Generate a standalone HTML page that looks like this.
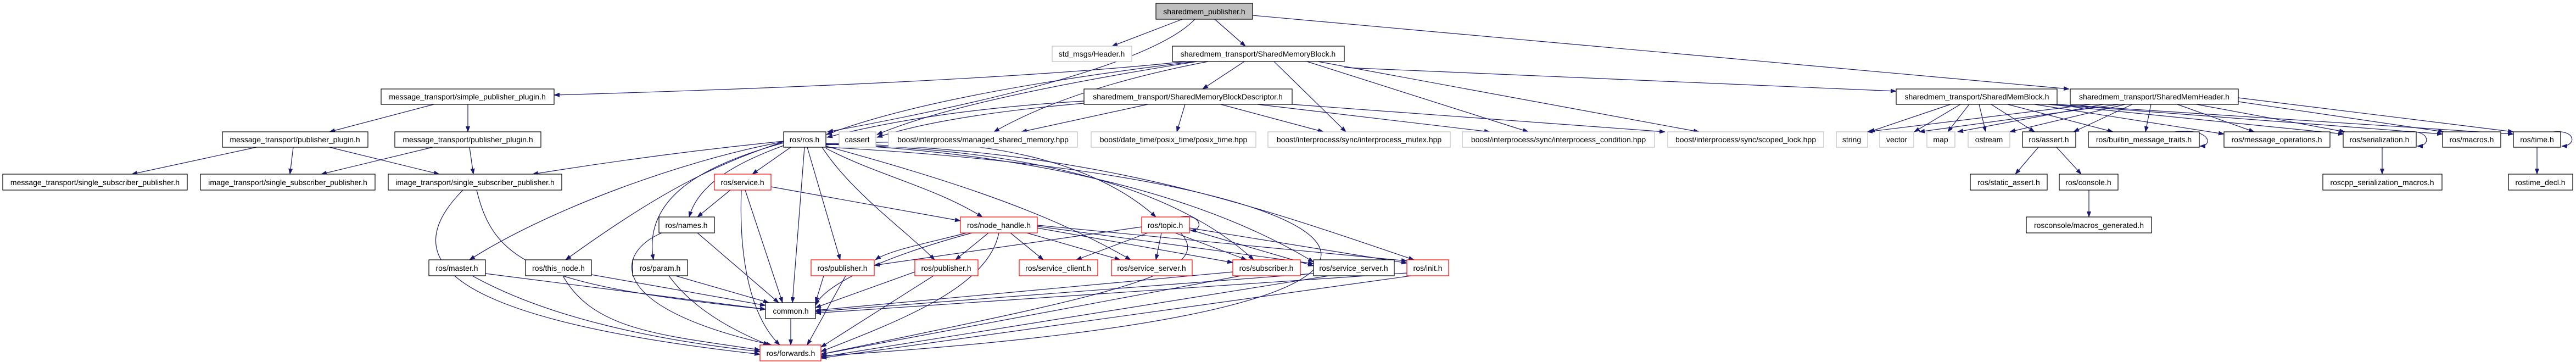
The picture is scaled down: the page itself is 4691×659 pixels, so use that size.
<!DOCTYPE html>
<html><head><meta charset="utf-8"><style>
html,body{margin:0;padding:0;background:#fff;}
svg{display:block;}
text{font-family:"Liberation Sans",sans-serif;font-size:14px;fill:#000;text-anchor:middle;}
.e{fill:none;stroke:#191970;stroke-width:1.2;marker-end:url(#a);}
.n{fill:#fff;stroke:#000;stroke-width:1.2;}
.g{fill:#fff;stroke:#bfbfbf;stroke-width:1.2;}
.r{fill:#fff;stroke:#ff0000;stroke-width:1.2;}
</style></head><body>
<svg width="4691" height="659" viewBox="0 0 4691 659" xmlns="http://www.w3.org/2000/svg">
<defs><marker id="a" markerWidth="11" markerHeight="8" refX="10" refY="4" orient="auto" markerUnits="userSpaceOnUse"><path d="M0,0 L11,4 L0,8 z" fill="#191970"/></marker></defs>
<g>
<path class="e" d="M2153,35 L2025,84"/>
<path class="e" d="M2212,35 L2268,84"/>
<path class="e" d="M2176,35 Q2080,135 1507,240"/>
<path class="e" d="M2281,28 L3768,162"/>
<path class="e" d="M2160,112 Q1800,150 1009,173"/>
<path class="e" d="M2175,112 Q1700,170 1505,245"/>
<path class="e" d="M2180,112 Q1750,180 1597,245"/>
<path class="e" d="M2200,112 Q1950,160 1810,240"/>
<path class="e" d="M2266,112 L2190,162"/>
<path class="e" d="M2320,112 L2451,240"/>
<path class="e" d="M2380,112 L2783,240"/>
<path class="e" d="M2400,112 L3094,240"/>
<path class="e" d="M2448,123 L3453,166"/>
<path class="e" d="M1974,184 Q1700,200 1506,250"/>
<path class="e" d="M1974,188 Q1720,210 1597,250"/>
<path class="e" d="M2090,190 L1860,240"/>
<path class="e" d="M2158,190 L2143,240"/>
<path class="e" d="M2223,190 L2410,240"/>
<path class="e" d="M2290,190 L2713,240"/>
<path class="e" d="M2353,190 L3032,240"/>
<path class="e" d="M790,190 L600,240"/>
<path class="e" d="M852,190 L852,240"/>
<path class="e" d="M467,268 L240,317"/>
<path class="e" d="M534,268 L528,317"/>
<path class="e" d="M600,268 L800,317"/>
<path class="e" d="M788,268 L585,317"/>
<path class="e" d="M855,268 L862,317"/>
<path class="e" d="M843,346 C720,470 800,580 1384,645"/>
<path class="e" d="M868,346 C900,480 980,520 1394,563"/>
<path class="e" d="M1427,257 Q1200,280 970,317"/>
<path class="e" d="M1427,258 C1250,290 1000,380 855,473"/>
<path class="e" d="M1427,258 C1300,300 1200,350 1030,473"/>
<path class="e" d="M1427,260 C1280,300 1170,360 1190,473"/>
<path class="e" d="M1427,265 C1330,300 1270,340 1255,395"/>
<path class="e" d="M1440,268 L1370,317"/>
<path class="e" d="M1465,268 L1443,551"/>
<path class="e" d="M1470,268 L1530,473"/>
<path class="e" d="M1504,270 C1600,320 1700,340 1789,395"/>
<path class="e" d="M1497,268 C1550,350 1650,420 1702,473"/>
<path class="e" d="M1504,266 C1700,320 1900,380 2059,473"/>
<path class="e" d="M1504,264 C1800,240 2000,300 2105,395"/>
<path class="e" d="M1504,263 C1900,270 2150,350 2283,473"/>
<path class="e" d="M1504,262 C1900,280 2200,360 2392,477"/>
<path class="e" d="M1504,261 C2000,270 2300,380 2575,473"/>
<path class="e" d="M1504,268 C2500,320 2900,560 1495,648"/>
<path class="e" d="M1330,346 L1270,395"/>
<path class="e" d="M1357,346 L1425,551"/>
<path class="e" d="M1350,346 C1345,480 1370,580 1420,628"/>
<path class="e" d="M1404,340 L1749,402"/>
<path class="e" d="M1270,424 L1418,551"/>
<path class="e" d="M1205,424 C1120,460 1100,560 1405,628"/>
<path class="e" d="M884,498 L1394,563"/>
<path class="e" d="M860,502 C1000,580 1200,620 1384,640"/>
<path class="e" d="M1077,500 L1394,556"/>
<path class="e" d="M1025,502 C1080,600 1200,610 1384,637"/>
<path class="e" d="M1230,502 L1400,551"/>
<path class="e" d="M1218,502 C1260,560 1330,600 1400,628"/>
<path class="e" d="M1760,424 C1700,440 1620,455 1594,473"/>
<path class="e" d="M1800,424 L1740,473"/>
<path class="e" d="M1840,424 L1900,473"/>
<path class="e" d="M1870,424 L2040,473"/>
<path class="e" d="M1889,415 L2245,478"/>
<path class="e" d="M1889,412 L2392,480"/>
<path class="e" d="M1889,410 L2562,475"/>
<path class="e" d="M1819,424 C1800,520 1650,580 1495,640"/>
<path class="e" d="M1770,424 C1600,470 1500,520 1485,556"/>
<path class="e" d="M2079,413 L1592,483"/>
<path class="e" d="M2090,424 L1960,473"/>
<path class="e" d="M2115,424 L2105,473"/>
<path class="e" d="M2140,424 L2270,473"/>
<path class="e" d="M2166,418 L2392,484"/>
<path class="e" d="M2166,415 L2562,479"/>
<path class="e" d="M2150,424 C2220,500 2000,540 1495,645"/>
<path class="e" d="M2150,395 C2185,388 2195,418 2168,420"/>
<path class="e" d="M1500,502 L1485,551"/>
<path class="e" d="M1540,502 L1470,628"/>
<path class="e" d="M1666,495 L1485,560"/>
<path class="e" d="M1700,502 L1495,632"/>
<path class="e" d="M2245,495 L1485,565"/>
<path class="e" d="M2260,502 L1495,645"/>
<path class="e" d="M2392,498 L1485,567"/>
<path class="e" d="M2420,502 L1495,650"/>
<path class="e" d="M2562,497 L1485,570"/>
<path class="e" d="M2570,502 L1495,652"/>
<path class="e" d="M1440,580 L1440,628"/>
<path class="e" d="M3552,190 L3404,240"/>
<path class="e" d="M3570,190 L3486,240"/>
<path class="e" d="M3586,190 L3547,240"/>
<path class="e" d="M3604,190 L3616,240"/>
<path class="e" d="M3626,190 L3705,240"/>
<path class="e" d="M3656,190 L3848,240"/>
<path class="e" d="M3705,190 L4050,244"/>
<path class="e" d="M3730,190 L4268,244"/>
<path class="e" d="M3740,190 L4448,244"/>
<path class="e" d="M3746,190 L4577,244"/>
<path class="e" d="M3807,190 L3400,240"/>
<path class="e" d="M3858,190 L3495,240"/>
<path class="e" d="M3830,190 L3565,240"/>
<path class="e" d="M3870,190 L3660,240"/>
<path class="e" d="M3883,190 L3776,240"/>
<path class="e" d="M3917,190 L3907,240"/>
<path class="e" d="M3965,190 L4105,240"/>
<path class="e" d="M4000,190 L4270,240"/>
<path class="e" d="M4076,185 L4450,240"/>
<path class="e" d="M4076,178 L4577,240"/>
<path class="e" d="M3712,268 L3670,317"/>
<path class="e" d="M3745,268 L3790,317"/>
<path class="e" d="M3804,346 L3804,395"/>
<path class="e" d="M4338,268 L4338,317"/>
<path class="e" d="M4620,268 L4620,317"/>
<path class="e" d="M3960,240 C4025,232 4032,266 4006,266"/>
<path class="e" d="M4385,240 C4425,236 4428,266 4402,266"/>
<path class="e" d="M4650,240 C4692,236 4692,266 4665,266"/>
</g>
<g>
<rect x="2105" y="6" width="176" height="29" fill="#bfbfbf" stroke="#000" stroke-width="1.2"/><text x="2193" y="26">sharedmem_publisher.h</text>
<rect class="g" x="1916" y="84" width="145" height="28"/><text x="1988" y="103">std_msgs/Header.h</text>
<rect class="n" x="2135" y="84" width="313" height="28"/><text x="2291" y="103">sharedmem_transport/SharedMemoryBlock.h</text>
<rect class="n" x="694" y="162" width="315" height="28"/><text x="851" y="181">message_transport/simple_publisher_plugin.h</text>
<rect class="n" x="1974" y="162" width="379" height="28"/><text x="2163" y="181">sharedmem_transport/SharedMemoryBlockDescriptor.h</text>
<rect class="n" x="3453" y="162" width="293" height="28"/><text x="3600" y="181">sharedmem_transport/SharedMemBlock.h</text>
<rect class="n" x="3770" y="162" width="306" height="28"/><text x="3923" y="181">sharedmem_transport/SharedMemHeader.h</text>
<rect class="n" x="405" y="240" width="265" height="28"/><text x="537" y="259">message_transport/publisher_plugin.h</text>
<rect class="n" x="719" y="240" width="266" height="28"/><text x="852" y="259">message_transport/publisher_plugin.h</text>
<rect class="n" x="1427" y="240" width="77" height="28"/><text x="1465" y="259">ros/ros.h</text>
<rect class="g" x="1528" y="240" width="67" height="28"/><text x="1561" y="259">cassert</text>
<rect class="g" x="1618" y="240" width="344" height="28"/><text x="1790" y="259">boost/interprocess/managed_shared_memory.hpp</text>
<rect class="g" x="1987" y="240" width="300" height="28"/><text x="2137" y="259">boost/date_time/posix_time/posix_time.hpp</text>
<rect class="g" x="2309" y="240" width="332" height="28"/><text x="2475" y="259">boost/interprocess/sync/interprocess_mutex.hpp</text>
<rect class="g" x="2663" y="240" width="350" height="28"/><text x="2838" y="259">boost/interprocess/sync/interprocess_condition.hpp</text>
<rect class="g" x="3037" y="240" width="284" height="28"/><text x="3179" y="259">boost/interprocess/sync/scoped_lock.hpp</text>
<rect class="g" x="3344" y="240" width="57" height="28"/><text x="3372" y="259">string</text>
<rect class="g" x="3423" y="240" width="62" height="28"/><text x="3454" y="259">vector</text>
<rect class="g" x="3509" y="240" width="51" height="28"/><text x="3534" y="259">map</text>
<rect class="g" x="3584" y="240" width="76" height="28"/><text x="3622" y="259">ostream</text>
<rect class="n" x="3683" y="240" width="97" height="28"/><text x="3731" y="259">ros/assert.h</text>
<rect class="n" x="3803" y="240" width="202" height="28"/><text x="3904" y="259">ros/builtin_message_traits.h</text>
<rect class="n" x="4050" y="240" width="193" height="28"/><text x="4146" y="259">ros/message_operations.h</text>
<rect class="n" x="4267" y="240" width="133" height="28"/><text x="4333" y="259">ros/serialization.h</text>
<rect class="n" x="4448" y="240" width="106" height="28"/><text x="4501" y="259">ros/macros.h</text>
<rect class="n" x="4577" y="240" width="86" height="28"/><text x="4620" y="259">ros/time.h</text>
<rect class="n" x="5" y="317" width="336" height="29"/><text x="173" y="337">message_transport/single_subscriber_publisher.h</text>
<rect class="n" x="365" y="317" width="318" height="29"/><text x="524" y="337">image_transport/single_subscriber_publisher.h</text>
<rect class="n" x="707" y="317" width="316" height="29"/><text x="865" y="337">image_transport/single_subscriber_publisher.h</text>
<rect class="r" x="1301" y="317" width="103" height="29"/><text x="1352" y="337">ros/service.h</text>
<rect class="n" x="3588" y="317" width="140" height="29"/><text x="3658" y="337">ros/static_assert.h</text>
<rect class="n" x="3750" y="317" width="107" height="29"/><text x="3803" y="337">ros/console.h</text>
<rect class="n" x="4230" y="317" width="217" height="29"/><text x="4338" y="337">roscpp_serialization_macros.h</text>
<rect class="n" x="4568" y="317" width="117" height="29"/><text x="4626" y="337">rostime_decl.h</text>
<rect class="n" x="1200" y="395" width="101" height="29"/><text x="1250" y="415">ros/names.h</text>
<rect class="r" x="1749" y="395" width="140" height="29"/><text x="1819" y="415">ros/node_handle.h</text>
<rect class="r" x="2079" y="395" width="87" height="29"/><text x="2122" y="415">ros/topic.h</text>
<rect class="n" x="3690" y="395" width="228" height="29"/><text x="3804" y="415">rosconsole/macros_generated.h</text>
<rect class="n" x="781" y="473" width="103" height="29"/><text x="832" y="493">ros/master.h</text>
<rect class="n" x="957" y="473" width="120" height="29"/><text x="1017" y="493">ros/this_node.h</text>
<rect class="n" x="1152" y="473" width="100" height="29"/><text x="1202" y="493">ros/param.h</text>
<rect class="r" x="1477" y="473" width="115" height="29"/><text x="1534" y="493">ros/publisher.h</text>
<rect class="r" x="1666" y="473" width="115" height="29"/><text x="1723" y="493">ros/publisher.h</text>
<rect class="r" x="1856" y="473" width="143" height="29"/><text x="1927" y="493">ros/service_client.h</text>
<rect class="r" x="2024" y="473" width="147" height="29"/><text x="2097" y="493">ros/service_server.h</text>
<rect class="r" x="2245" y="473" width="123" height="29"/><text x="2306" y="493">ros/subscriber.h</text>
<rect class="n" x="2392" y="473" width="147" height="29"/><text x="2465" y="493">ros/service_server.h</text>
<rect class="r" x="2562" y="473" width="76" height="29"/><text x="2600" y="493">ros/init.h</text>
<rect class="n" x="1394" y="551" width="91" height="29"/><text x="1440" y="571">common.h</text>
<rect class="r" x="1384" y="628" width="111" height="29"/><text x="1440" y="648">ros/forwards.h</text>
</g>
</svg>
</body></html>
